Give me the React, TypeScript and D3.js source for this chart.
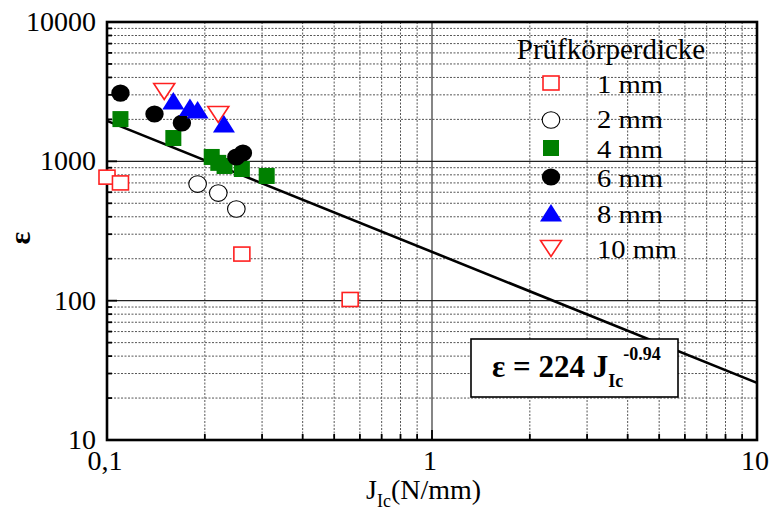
import React from "react";
import * as d3 from "d3";

// ---- data ----
const t1X = [0.1, 0.11, 0.26, 0.56];
const t1Y = [770, 700, 216, 102];
const t2X = [0.19, 0.22, 0.25];
const t2Y = [687, 592, 455];
const t4X = [0.11, 0.16, 0.21, 0.22, 0.23, 0.26, 0.31];
const t4Y = [2010, 1470, 1075, 975, 926, 881, 785];
const t6X = [0.11, 0.14, 0.17, 0.25, 0.262];
const t6Y = [3090, 2186, 1884, 1074, 1148];
const t8X = [0.16, 0.18, 0.19, 0.229];
const t8Y = [2711, 2434, 2335, 1854];
const t10X = [0.15, 0.22];
const t10Y = [3198, 2186];

const fitCoef = 224;
const fitExp = -0.94;
const fitX = [0.1, 10];

const xTickVals = [0.1, 1, 10];
const xTickLabels = ["0,1", "1", "10"];
const yTickVals = [10, 100, 1000, 10000];
const yTickLabels = ["10", "100", "1000", "10000"];

const legendTitle = "Prüfkörperdicke";
const legendLabels = ["1 mm", "2 mm", "4 mm", "6 mm", "8 mm", "10 mm"];

const W = 774;
const H = 513;
const L = 107, R = 757, T = 22, B = 440;
const FONT = "'Liberation Serif', 'Times New Roman', Times, serif";

const x = d3.scaleLog().domain([0.1, 10]).range([L, R]);
const y = d3.scaleLog().domain([10, 10000]).range([B, T]);

function minorVals(decades: number[]) {
  const out: number[] = [];
  decades.forEach((d) => {
    for (let k = 2; k <= 9; k++) out.push(k * d);
  });
  return out;
}
const xMinor = minorVals([0.1, 1]);
const yMinor = minorVals([10, 100, 1000]);
const xMajorInner = [1];
const yMajorInner = [100, 1000];

type Kind = "sqOpen" | "circOpen" | "sqFill" | "circFill" | "triUp" | "triDown";

function Marker({ kind, cx, cy }: { kind: Kind; cx: number; cy: number }) {
  switch (kind) {
    case "sqOpen":
      return <rect x={cx - 8} y={cy - 7} width={16} height={14} fill="#fff" stroke="#ff2020" strokeWidth={1.6} />;
    case "circOpen":
      return <ellipse cx={cx} cy={cy} rx={8.8} ry={8.3} fill="#fff" stroke="#000" strokeWidth={1.1} />;
    case "sqFill":
      return <rect x={cx - 8} y={cy - 8} width={16} height={16} fill="#008000" />;
    case "circFill":
      return <ellipse cx={cx} cy={cy} rx={9.2} ry={8.6} fill="#000" />;
    case "triUp": {
      const p = d3.path();
      p.moveTo(cx, cy - 9);
      p.lineTo(cx + 11, cy + 8.5);
      p.lineTo(cx - 11, cy + 8.5);
      p.closePath();
      return <path d={p.toString()} fill="#0000ff" />;
    }
    case "triDown": {
      const p = d3.path();
      p.moveTo(cx - 10.5, cy - 7.5);
      p.lineTo(cx + 10.5, cy - 7.5);
      p.lineTo(cx, cy + 8.5);
      p.closePath();
      return <path d={p.toString()} fill="#fff" stroke="#ff2020" strokeWidth={1.6} />;
    }
  }
  return null;
}

const series: { kind: Kind; xs: number[]; ys: number[] }[] = [
  { kind: "sqOpen", xs: t1X, ys: t1Y },
  { kind: "circOpen", xs: t2X, ys: t2Y },
  { kind: "sqFill", xs: t4X, ys: t4Y },
  { kind: "circFill", xs: t6X, ys: t6Y },
  { kind: "triDown", xs: t10X, ys: t10Y },
  { kind: "triUp", xs: t8X, ys: t8Y },
];
const legendKinds: Kind[] = ["sqOpen", "circOpen", "sqFill", "circFill", "triUp", "triDown"];
const legendY = [83, 120, 148, 177, 213, 248];
const legendBase = [93, 128, 158, 187, 223, 258];

export default function App() {
  const line = d3
    .line<number>()
    .x((d) => x(d))
    .y((d) => y(fitCoef * Math.pow(d, fitExp)));

  return (
    <svg width={W} height={H} style={{ position: "absolute", left: 0, top: 0, background: "#fff", fontFamily: FONT }}>
      <rect x={0} y={0} width={W} height={H} fill="#fff" />
      {/* minor grid */}
      <g stroke="#555" strokeWidth={1} strokeDasharray="2 1.5">
        {xMinor.map((v) => (
          <line key={"xm" + v} x1={x(v)} x2={x(v)} y1={T} y2={B} />
        ))}
        {yMinor.map((v) => (
          <line key={"ym" + v} x1={L} x2={R} y1={y(v)} y2={y(v)} />
        ))}
      </g>
      {/* major grid */}
      <g stroke="#222" strokeWidth={1.1}>
        {xMajorInner.map((v) => (
          <line key={"xM" + v} x1={x(v)} x2={x(v)} y1={T} y2={B} />
        ))}
        {yMajorInner.map((v) => (
          <line key={"yM" + v} x1={L} x2={R} y1={y(v)} y2={y(v)} />
        ))}
      </g>
      {/* ticks */}
      <g stroke="#000" strokeWidth={1.8}>
        {yMinor.map((v) => (
          <line key={"yt" + v} x1={L} x2={L + 5} y1={y(v)} y2={y(v)} />
        ))}
        {yMajorInner.map((v) => (
          <line key={"yT" + v} x1={L} x2={L + 10} y1={y(v)} y2={y(v)} />
        ))}
        {xMinor.map((v) => (
          <line key={"xt" + v} x1={x(v)} x2={x(v)} y1={B} y2={B - 6} />
        ))}
        {xMajorInner.map((v) => (
          <line key={"xT" + v} x1={x(v)} x2={x(v)} y1={B} y2={B - 10} />
        ))}
      </g>
      {/* frame */}
      <rect x={L} y={T} width={R - L} height={B - T} fill="none" stroke="#000" strokeWidth={2.6} />
      {/* fit line */}
      <path d={line(fitX) || ""} fill="none" stroke="#000" strokeWidth={2.6} />
      {/* data */}
      {series.map((s, i) => (
        <g key={"s" + i}>
          {s.xs.map((xv, j) => (
            <Marker key={j} kind={s.kind} cx={x(xv)} cy={y(s.ys[j])} />
          ))}
        </g>
      ))}
      {/* tick labels */}
      <g fontSize={28} fill="#000">
        {xTickVals.map((v, i) => (
          <text key={"xl" + v} x={x(v) - 2} y={470} textAnchor="middle">
            {xTickLabels[i]}
          </text>
        ))}
        {yTickVals.map((v, i) => (
          <text key={"yl" + v} x={96} y={y(v) + 9} textAnchor="end">
            {yTickLabels[i]}
          </text>
        ))}
      </g>
      {/* axis titles */}
      <text x={366} y={499} fontSize={28}>
        J<tspan dy={8} fontSize={18}>Ic</tspan>
        <tspan dy={-8} fontSize={28}>(N/mm)</tspan>
      </text>
      <text transform="translate(30,238) rotate(-90)" fontSize={30} fontWeight="bold" textAnchor="middle">
        ε
      </text>
      {/* legend */}
      <text x={611} y={59} fontSize={29} textAnchor="middle">
        {legendTitle}
      </text>
      {legendLabels.map((lab, i) => (
        <g key={"lg" + i}>
          <Marker kind={legendKinds[i]} cx={551} cy={legendY[i]} />
          <text x={597} y={legendBase[i]} fontSize={26} textLength={lab.length > 4 ? 80 : 66} lengthAdjust="spacingAndGlyphs">
            {lab}
          </text>
        </g>
      ))}
      {/* equation box */}
      <rect x={471} y={339} width={207} height={58} fill="#fff" stroke="#000" strokeWidth={1.6} />
      <text x={492} y={377} fontSize={31} fontWeight="bold">
        ε = 224 J<tspan dy={10} fontSize={18}>Ic</tspan>
        <tspan dy={-27} fontSize={18}>-0.94</tspan>
      </text>
    </svg>
  );
}
